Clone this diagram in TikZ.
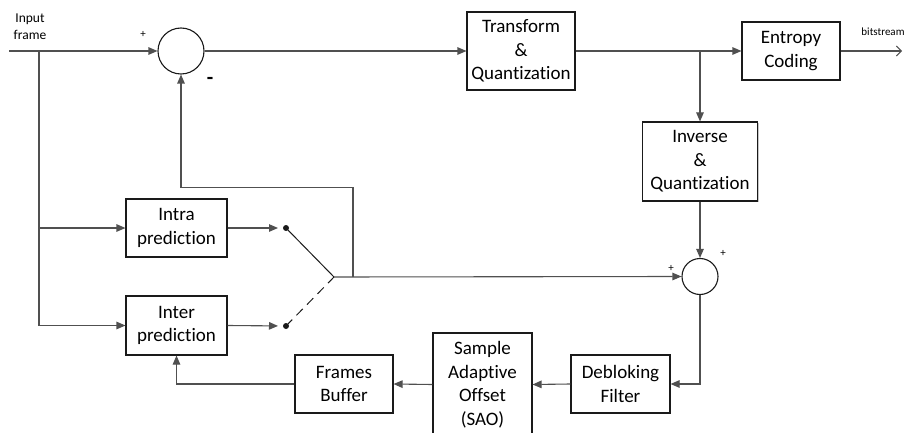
\documentclass[tikz,border=0pt]{standalone}
\usepackage{fontspec}
\setmainfont{Carlito}[Ligatures=NoCommon]
\usetikzlibrary{arrows.meta,shadows}
\definecolor{wire}{HTML}{505050}
\definecolor{edge}{HTML}{1A1A1A}
\begin{document}
\begin{tikzpicture}[x=1pt,y=-1pt,
  blk/.style={draw=edge,line width=1.1pt,fill=white,inner sep=0pt,align=center,
    font=\fontsize{19}{23.5}\selectfont,
    drop shadow={shadow xshift=1.2pt,shadow yshift=-1.2pt,fill=black!22,opacity=1}},
  sumc/.style={draw=edge,line width=1.1pt,fill=white,circle,inner sep=0pt},
  wireln/.style={draw=wire,line width=1.1pt},
  arr/.style={wireln,-{Triangle[length=9pt,width=7.5pt]}},
  small/.style={font=\fontsize{11}{16}\selectfont,align=center,inner sep=0pt},
  dotn/.style={circle,fill=edge,inner sep=0pt,minimum size=6pt}]
\useasboundingbox (0,0) rectangle (916,433);
% blocks
\node[blk,minimum width=108pt,minimum height=78pt] (tq) at (521,51) {Transform\\\&\\Quantization};
\node[blk,minimum width=98pt,minimum height=58pt] (ent) at (791,51) {Entropy\\Coding};
\node[blk,minimum width=115pt,minimum height=79pt] (inv) at (700,161.5) {Inverse\\\&\\Quantization};
\node[blk,minimum width=101pt,minimum height=58pt] (intra) at (176.5,228) {Intra\\prediction};
\node[blk,minimum width=101pt,minimum height=59pt] (inter) at (176.5,325.5) {Inter\\prediction};
\node[blk,minimum width=99pt,minimum height=58pt] (debl) at (620.5,384) {Debloking\\Filter};
\node[blk,minimum width=99pt,minimum height=103pt] (sao) at (482.5,384.5) {Sample\\Adaptive\\Offset\\(SAO)};
\node[blk,minimum width=98pt,minimum height=58pt] (fbuf) at (344,384) {Frames\\Buffer};
% adders
\node[sumc,minimum size=46pt] (add1) at (181,51) {};
\node[sumc,minimum size=36pt] (add2) at (700,276.5) {};
% switch
\node[dotn] (d1) at (286,228) {};
\node[dotn] (d2) at (286,326) {};
\coordinate (piv) at (334,277);
\coordinate (fbk) at (353,277);
% helper coordinates
\coordinate (in) at (9,51);
\coordinate (br) at (39,51);
\coordinate (tb) at (700,51);
\coordinate (out) at (902,51);
% labels
\node[small,font=\fontsize{13.5}{16.5}\selectfont] (lin) at (30,26.5) {Input\\frame};
\node[small] (p1) at (143,34) {+};
\node[font=\fontsize{21}{21}\selectfont\bfseries,inner sep=0pt] (m1) at (210,81) {-};
\node[small] (bs) at (883,32) {bitstream};
\node[small] (p2) at (671,268) {+};
\node[small] (p3) at (723,253) {+};
% connectors
\draw[arr] (in) -- (add1.west);
\draw[arr] (br) |- (intra.west);
\draw[arr] (br) |- (inter.west);
\draw[arr] (add1.east) -- (tq.west);
\draw[arr] (tq.east) -- (ent.west);
\draw[wireln,-{Straight Barb[length=5pt,width=10pt,line width=0.9pt]}] (ent.east) -- (out);
\draw[arr] (tb) -- (inv.north);
\draw[arr] (inv.south) -- (add2.north);
\draw[arr,shorten >=8pt] (intra.east) -- (d1.center);
\draw[arr,shorten >=8pt] (inter.east) -- (d2.center);
\draw[draw=edge,line width=1pt] (d1.center) -- (piv);
\draw[draw=edge,line width=1pt,dash pattern=on 9pt off 6pt] (d2.center) -- (piv);
\draw[arr] (piv) -- (add2.west);
\draw[arr] (fbk) |- (181,187.5) -- (add1.south);
\draw[arr] (add2.south) |- (debl.east);
\draw[arr] (debl.west) -- (sao.east);
\draw[arr] (sao.west) -- (fbuf.east);
\draw[arr] (fbuf.west) -| (inter.south);
\end{tikzpicture}
\end{document}
